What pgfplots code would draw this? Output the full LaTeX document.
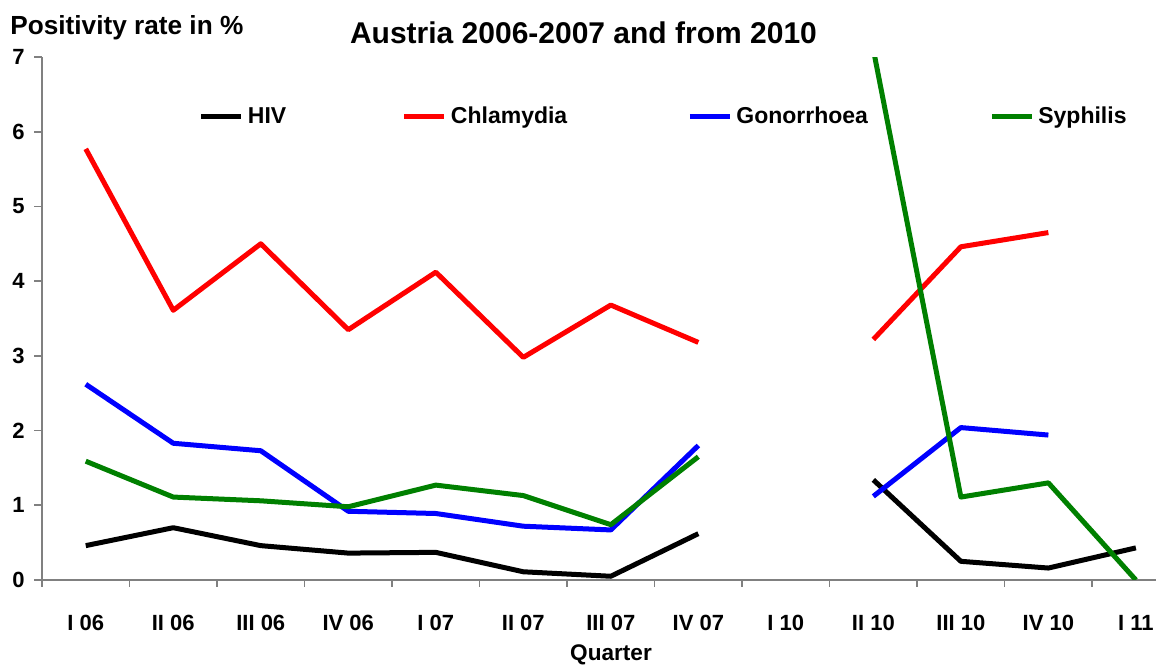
\documentclass[border=0pt]{standalone}
\usepackage{fontspec}
\setmainfont{Liberation Sans}
\usepackage{pgfplots}
\pgfplotsset{compat=1.18}
\definecolor{sgreen}{RGB}{0,128,0}
\definecolor{axgray}{RGB}{128,128,128}
\begin{document}
\begin{tikzpicture}
\useasboundingbox (-21pt,-42pt) rectangle (557pt,290pt);
\clip (-21pt,-42pt) rectangle (557pt,290pt);
\begin{axis}[
  at={(0pt,0pt)}, anchor=south west,
  scale only axis, width=557pt, height=261.5pt,
  xmin=-0.5, xmax=12.23, ymin=0, ymax=7,
  axis x line=bottom, axis y line=left,
  axis line style={-, axgray, line width=0.8pt},
  tick align=outside,
  xtick={0,...,12},
  xticklabels={I 06, II 06, III 06, IV 06, I 07, II 07, III 07, IV 07, I 10, II 10, III 10, IV 10, I 11},
  major x tick style={draw=none},
  minor xtick={-0.5,0.5,...,11.5},
  minor tick length=3.5pt,
  major tick length=4pt,
  tick style={axgray, line width=0.8pt},
  ytick={0,...,7},
  /pgf/number format/assume math mode=true,
  xticklabel style={font=\bfseries\fontsize{11}{13}\selectfont, anchor=base, yshift=-21.3pt},
  yticklabel style={font=\bfseries\fontsize{11}{13}\selectfont, anchor=east, inner sep=0pt, xshift=-4.5pt},
  unbounded coords=jump,
  legend columns=4,
  legend style={draw=none, fill=none, at={(0.1409,0.8853)}, anchor=west, inner sep=0pt, outer sep=0pt,
    column sep=0pt, nodes={inner sep=0pt, font=\bfseries\fontsize{11.5}{13}\selectfont}},
  legend image code/.code={\draw[#1] (0pt,0pt) -- (20pt,0pt); \path (22pt,0pt);},
  every axis plot/.append style={line width=2.5pt, line join=round},
]
\addplot[black] coordinates {(0,0.46) (1,0.70) (2,0.46) (3,0.36) (4,0.37) (5,0.11) (6,0.05) (7,0.62) (8,nan) (9,1.34) (10,0.25) (11,0.16) (12,0.43)};
\addlegendentry{\makebox[77pt][l]{HIV}}
\addplot[red] coordinates {(0,5.77) (1,3.61) (2,4.50) (3,3.35) (4,4.12) (5,2.98) (6,3.68) (7,3.18) (8,nan) (9,3.22) (10,4.46) (11,4.65)};
\addlegendentry{\makebox[118.2pt][l]{Chlamydia}}
\addplot[blue] coordinates {(0,2.62) (1,1.83) (2,1.73) (3,0.92) (4,0.89) (5,0.72) (6,0.67) (7,1.80) (8,nan) (9,1.12) (10,2.04) (11,1.94)};
\addlegendentry{\makebox[126.5pt][l]{Gonorrhoea}}
\addplot[sgreen] coordinates {(0,1.59) (1,1.11) (2,1.06) (3,0.98) (4,1.27) (5,1.13) (6,0.74) (7,1.65) (8,nan) (9,7.1) (10,1.11) (11,1.30) (12,0.0)};
\addlegendentry{Syphilis}
\end{axis}
\node[anchor=base, font=\bfseries\fontsize{15}{18}\selectfont] at (270.75pt,268.3pt) {Austria 2006-2007 and from 2010};
\node[anchor=base west, inner sep=0pt, font=\bfseries\fontsize{13.1}{15}\selectfont] at (-16pt,272.8pt) {Positivity rate in \%};
\node[anchor=base, font=\bfseries\fontsize{11.3}{13}\selectfont] at (284.5pt,-40pt) {Quarter};
\end{tikzpicture}
\end{document}
